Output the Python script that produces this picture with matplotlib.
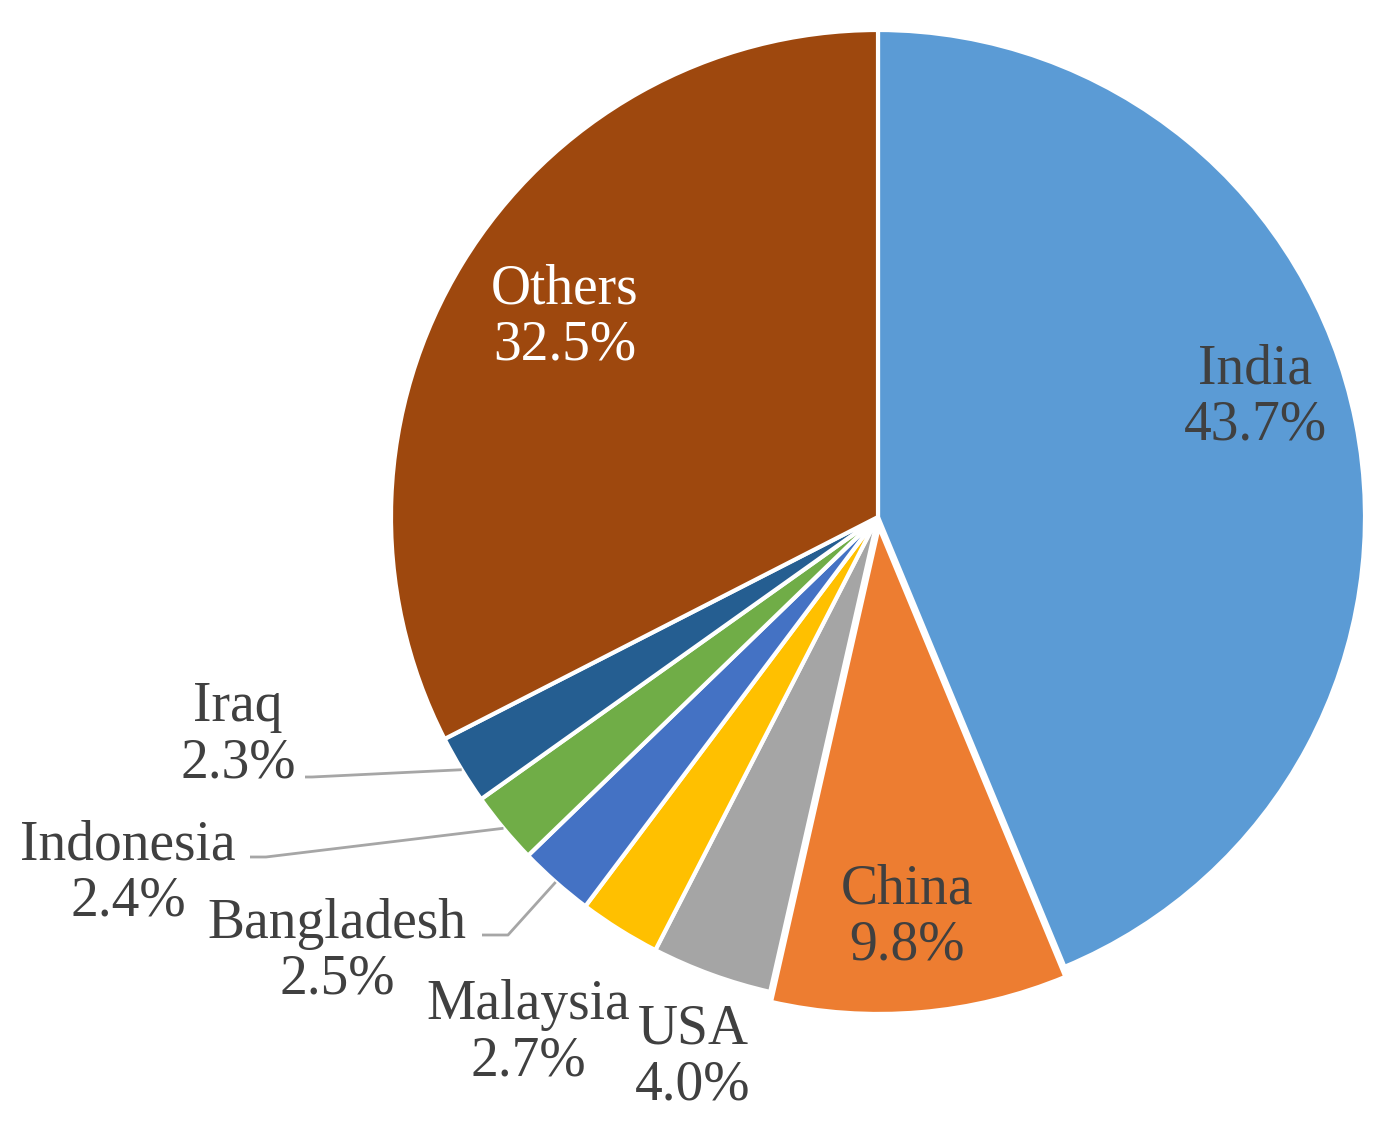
import numpy as np
import matplotlib
matplotlib.use('Agg')
import matplotlib.pyplot as plt

countries = ['India', 'China', 'USA', 'Malaysia', 'Bangladesh', 'Indonesia', 'Iraq', 'Others']
shares = [43.7, 9.8, 4.0, 2.7, 2.5, 2.4, 2.3, 32.5]
colors = ['#5B9BD5', '#ED7D31', '#A5A5A5', '#FFC000', '#4472C4', '#70AD47', '#255E91', '#9E480E']

W, H = 1396, 1135
cx, cy, r = 878, H - 517, 487

# label block centres (pixels, y from top) and text colour
label_pos = {
    'India': (1255, 397, '#404040'),
    'China': (907, 918, '#404040'),
    'USA': (693, 1058, '#404040'),
    'Malaysia': (528, 1033, '#404040'),
    'Bangladesh': (337, 952, '#404040'),
    'Indonesia': (128, 873, '#404040'),
    'Iraq': (238, 735, '#404040'),
    'Others': (565, 318, 'white'),
}
# leader line start points (pixels, y from top) and elbow
leaders = {
    'Iraq': [(305, 777), (312, 777)],
    'Indonesia': [(250, 857), (266, 857)],
    'Bangladesh': [(482, 935), (508, 935)],
}

fig = plt.figure(figsize=(W / 100, H / 100), dpi=100)
ax = fig.add_axes([0, 0, 1, 1])

# explode is in data units here (pixels)
explode = [10 if c == 'China' else 0 for c in countries]
wedges, _ = ax.pie(shares, colors=colors, startangle=90, counterclock=False,
                   center=(cx, cy), radius=r, explode=explode,
                   wedgeprops=dict(edgecolor='white', linewidth=3))
ax.set_xlim(0, W)
ax.set_ylim(0, H)
ax.set_aspect('equal')
ax.axis('off')

for name, val in zip(countries, shares):
    x, y, col = label_pos[name]
    ax.text(x, H - y, f'{name}\n{val:.1f}%', ha='center', va='center',
            fontsize=40, color=col, family='Liberation Serif', linespacing=1.1)

for w, name in zip(wedges, countries):
    if name not in leaders:
        continue
    ang = np.deg2rad((w.theta1 + w.theta2) / 2)
    ex, ey = cx + r * np.cos(ang), cy + r * np.sin(ang)
    pts = leaders[name]
    xs = [p[0] for p in pts] + [ex]
    ys = [H - p[1] for p in pts] + [ey]
    ax.plot(xs, ys, color='#A6A6A6', lw=2, solid_capstyle='butt')

fig.savefig('out.png', dpi=100)
